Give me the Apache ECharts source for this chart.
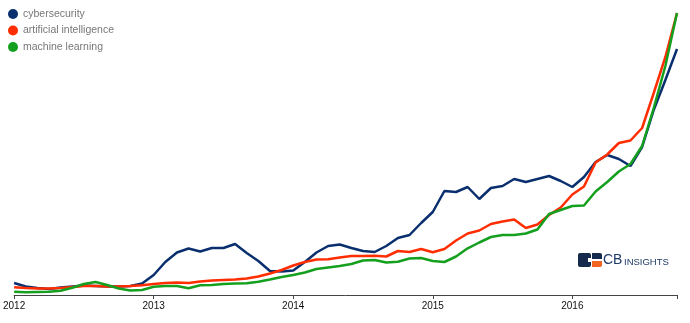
<!DOCTYPE html>
<html>
<head>
<meta charset="utf-8">
<script src="https://cdn.jsdelivr.net/npm/echarts@6/dist/echarts.min.js"></script>
<style>html,body{margin:0;padding:0;background:#fff;}#c{width:690px;height:323px;}</style>
</head>
<body>
<div id="c"></div>
<script>
// Monthly index values, Jan 2012 – Oct 2016
const seriesNames = ['cybersecurity', 'artificial intelligence', 'machine learning'];
const yearLabels = ['2012', '2013', '2014', '2015', '2016'];
const cybersecurity = [12, 8.5, 7, 6, 7.5, 8.5, 9.5, 9, 8.5, 8.5, 9, 11.5, 20, 33, 42.5, 46.5, 43.5, 47, 47, 51, 42, 34, 24, 23.5,
  24.5, 33, 42.5, 49, 50.5, 47, 44, 43, 49, 57, 60, 72, 83, 104, 103, 108, 96, 107, 109, 116, 113, 116, 119, 114,
  108, 118, 133, 140, 136, 129, 148, 185, 215, 246];
const artificialIntelligence = [7.7, 7, 6.5, 6.5, 7, 8, 9, 9, 8.5, 8.5, 9, 9.7, 11, 12, 12.5, 12, 13.5, 14.5, 15, 15.5, 16.5, 18.5, 21.5, 25,
  29.5, 33, 35.5, 35.7, 37.5, 39, 39, 39.3, 38.5, 44, 43, 46, 42.7, 46, 54.5, 61.5, 64.5, 71, 73.5, 75.5, 67, 70.5, 80, 87.5,
  100.5, 108.5, 132.5, 140.5, 152, 154.5, 167, 202, 238, 282];
const machineLearning = [3.3, 2.7, 3, 3.3, 4.3, 7.3, 11, 13, 10, 6.5, 4.5, 5, 8.3, 9, 9, 6.7, 9.7, 10, 11, 11.5, 11.7, 13.3, 15.5, 18,
  20, 22.5, 26, 27.5, 29, 31, 34.5, 35, 32.5, 33.3, 36.5, 37, 34, 33, 38.5, 46.7, 52.5, 58, 60, 60, 61.5, 65.5, 81, 85,
  89, 89.5, 103.5, 113, 123.5, 131, 149, 187, 229, 282];

const months = [];
for (let y = 2012; y <= 2016; y++) {
  for (let m = 1; m <= 12; m++) {
    if (months.length < cybersecurity.length) months.push(y + '-' + (m < 10 ? '0' + m : m));
  }
}
const colors = ['#0a2f6e', '#ff2d00', '#14a01e'];
const chart = echarts.init(document.getElementById('c'), null, {renderer: 'canvas'});
const lastIdx = months.length - 1;
chart.setOption({
  animation: false,
  color: colors,
  grid: {left: 13, right: 13, top: 10, bottom: 28},
  legend: {
    orient: 'vertical', left: 8, top: 8.5, padding: 0, icon: 'circle', itemWidth: 10, itemHeight: 10, itemGap: 5.5,
    textStyle: {color: '#777', fontSize: 10.5, fontFamily: 'Liberation Sans, Arial, sans-serif'},
    data: seriesNames
  },
  xAxis: {
    type: 'category', data: months, boundaryGap: false,
    axisLine: {lineStyle: {color: '#444', width: 1}},
    axisTick: {show: true, length: 4, lineStyle: {color: '#444'},
      interval: (i) => i % 12 === 0 || i === lastIdx},
    axisLabel: {
      interval: (i) => i % 12 === 0,
      color: '#111', fontSize: 10, margin: 6, fontFamily: 'Liberation Sans, Arial, sans-serif',
      formatter: (v, i) => yearLabels[Math.floor(i / 12)]
    },
    splitLine: {show: false}
  },
  yAxis: {type: 'value', min: 0, max: 285, show: false, splitLine: {show: false}},
  series: [
    {name: seriesNames[0], type: 'line', data: cybersecurity, symbol: 'none', lineStyle: {width: 2.5}, z: 3},
    {name: seriesNames[1], type: 'line', data: artificialIntelligence, symbol: 'none', lineStyle: {width: 2.5}, z: 4},
    {name: seriesNames[2], type: 'line', data: machineLearning, symbol: 'none', lineStyle: {width: 2.5}, z: 5}
  ],
  graphic: [
    {type: 'rect', left: 578, top: 253, shape: {width: 13, height: 14, r: 2}, style: {fill: '#14294b'}},
    {type: 'rect', left: 588, top: 258, shape: {width: 3, height: 4}, style: {fill: '#ffffff'}},
    {type: 'rect', left: 592, top: 253, shape: {width: 10, height: 6, r: [0, 2, 0, 0]}, style: {fill: '#14294b'}},
    {type: 'rect', left: 592, top: 261, shape: {width: 10, height: 6, r: [0, 0, 2, 0]}, style: {fill: '#f26522'}},
    {type: 'text', left: 603, top: 253, style: {text: 'CB', fill: '#1f3a66', font: '14px Liberation Sans, Arial, sans-serif'}},
    {type: 'text', left: 624, top: 257, style: {text: 'INSIGHTS', fill: '#1f3a66', font: '9.5px Liberation Sans, Arial, sans-serif'}}
  ]
});
</script>
</body>
</html>
